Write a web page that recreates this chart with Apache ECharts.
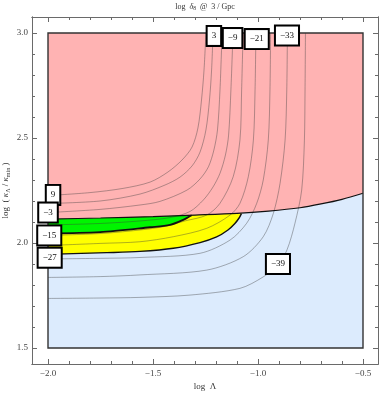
<!DOCTYPE html>
<html>
<head>
<meta charset="utf-8">
<script src="https://cdn.jsdelivr.net/npm/echarts@6/dist/echarts.min.js"></script>
<style>
html, body { margin: 0; padding: 0; background: #fff; }
#chart { width: 379px; height: 394px; }
</style>
</head>
<body>
<div id="chart"></div>
<script>
// plot region (log Λ, log κΛ/κmin)
const regionX = [-2.0, -0.5]
const regionY = [1.5, 3.0]

// tick values
const majorX = [-2.0, -1.5, -1.0, -0.5]
const minorX = [-1.9, -1.8, -1.7, -1.6, -1.4, -1.3, -1.2, -1.1, -0.9, -0.8, -0.7, -0.6]
const majorY = [1.5, 2.0, 2.5, 3.0]
const minorY = [1.6, 1.7, 1.8, 1.9, 2.1, 2.2, 2.3, 2.4, 2.6, 2.7, 2.8, 2.9]

// edge between the pink and the blue region
const boundX = [-2.0, -1.75, -1.5, -1.3, -1.1, -0.95, -0.8, -0.7, -0.6, -0.5]
const boundY = [2.114, 2.119, 2.126, 2.133, 2.141, 2.152, 2.168, 2.186, 2.208, 2.237]
// lower edge of the green band
const greenX = [-2.0, -1.752, -1.514, -1.419, -1.356, -1.316]
const greenY = [2.046, 2.052, 2.075, 2.086, 2.110, 2.132]
// lower edge of the yellow band
const yellowX = [-2.0, -1.72, -1.562, -1.403, -1.276, -1.197, -1.143, -1.110, -1.090, -1.079]
const yellowY = [1.946, 1.954, 1.960, 1.975, 2.002, 2.029, 2.062, 2.093, 2.119, 2.140]

// contour lines, level 9 down to -39
const c9x = [-2.0, -1.8, -1.643, -1.514, -1.429, -1.362, -1.314, -1.286, -1.269, -1.257, -1.248]
const c9y = [2.226, 2.240, 2.260, 2.290, 2.338, 2.395, 2.457, 2.548, 2.681, 2.824, 3.0]
const c3x = [-2.0, -1.752, -1.562, -1.443, -1.371, -1.314, -1.276, -1.248, -1.231, -1.221, -1.214]
const c3y = [2.188, 2.200, 2.233, 2.276, 2.314, 2.367, 2.433, 2.538, 2.681, 2.824, 3.0]
const cm3x = [-2.0, -1.752, -1.562, -1.467, -1.338, -1.276, -1.236, -1.210, -1.193, -1.181, -1.171]
const cm3y = [2.145, 2.160, 2.181, 2.198, 2.252, 2.305, 2.363, 2.443, 2.538, 2.729, 3.0]
const cm9x = [-2.0, -1.752, -1.562, -1.419, -1.324, -1.260, -1.214, -1.181, -1.155, -1.140, -1.129, -1.119]
const cm9y = [2.086, 2.093, 2.105, 2.121, 2.150, 2.205, 2.267, 2.332, 2.419, 2.514, 2.729, 3.0]
const cm15x = [-2.0, -1.752, -1.562, -1.443, -1.348, -1.244, -1.181, -1.118, -1.086, -1.078, -1.071]
const cm15y = [2.036, 2.045, 2.062, 2.079, 2.105, 2.133, 2.189, 2.316, 2.490, 2.729, 3.0]
const cm21x = [-2.0, -1.752, -1.562, -1.403, -1.244, -1.133, -1.086, -1.046, -1.022, -1.014, -1.010]
const cm21y = [1.988, 1.998, 2.006, 2.030, 2.070, 2.133, 2.189, 2.316, 2.490, 2.729, 3.0]
const cm27x = [-2.0, -1.752, -1.562, -1.276, -1.133, -1.054, -1.006, -0.975, -0.951, -0.943, -0.940]
const cm27y = [1.924, 1.927, 1.931, 1.951, 2.014, 2.094, 2.189, 2.300, 2.490, 2.729, 3.0]
const cm33x = [-2.0, -1.752, -1.562, -1.244, -1.070, -0.975, -0.927, -0.895, -0.871, -0.863, -0.860]
const cm33y = [1.836, 1.840, 1.848, 1.871, 1.935, 2.030, 2.141, 2.284, 2.490, 2.729, 3.0]
const cm39x = [-2.0, -1.752, -1.562, -1.324, -1.086, -0.976, -0.905, -0.862, -0.824, -0.792, -0.779, -0.776, -0.774]
const cm39y = [1.736, 1.738, 1.741, 1.752, 1.784, 1.838, 1.895, 1.967, 2.094, 2.252, 2.490, 2.729, 3.0]

// contour labels
const labelText = ['3', '\u22129', '\u221221', '\u221233', '9', '\u22123', '\u221215', '\u221227', '\u221239']
const labelX = [-1.210, -1.121, -1.006, -0.862, -1.976, -2.000, -1.994, -1.992, -0.905]
const labelY = [2.986, 2.976, 2.971, 2.988, 2.229, 2.145, 2.036, 1.930, 1.900]

const font = 'Liberation Serif'
const frame = '#6a6a6a'
const pad = 16 / 210   // frame sits a bit outside the plot region

function pairs(xs, ys) {
    return xs.map((x, i) => [x, ys[i]])
}
function fmt(v) {
    return v < 0 ? '\u2212' + Math.abs(v).toFixed(1) : v.toFixed(1)
}

// filled band: everything above the curve up to the top of the region
function fill(xs, ys, color, z) {
    return {
        type: 'line', data: pairs(xs, ys), smooth: 0.3, symbol: 'none', silent: true, z: z,
        lineStyle: { width: 0, opacity: 0 },
        areaStyle: { color: color, opacity: 1, origin: regionY[1] }
    }
}
function edge(xs, ys, w, z) {
    return {
        type: 'line', data: pairs(xs, ys), smooth: 0.3, symbol: 'none', silent: true, z: z,
        lineStyle: { color: '#111', width: w }
    }
}
function contour(xs, ys) {
    return {
        type: 'line', data: pairs(xs, ys), smooth: 0.3, symbol: 'none', silent: true, z: 5,
        lineStyle: { color: 'rgba(60,60,60,0.5)', width: 0.8 }
    }
}

function xAx(pos, ticks, len, labels) {
    return {
        type: 'value', min: regionX[0] - pad, max: regionX[1] + 15 / 210, position: pos,
        axisLine: { show: true, onZero: false, lineStyle: { color: frame, width: 1 } },
        axisTick: { show: true, inside: true, length: len, customValues: ticks, lineStyle: { color: frame, width: 1 } },
        axisLabel: { show: labels, customValues: ticks, margin: 5, fontFamily: font, fontSize: 9, color: '#444', formatter: fmt },
        splitLine: { show: false }
    }
}
function yAx(pos, ticks, len, labels) {
    return {
        type: 'value', min: regionY[0] - pad, max: regionY[1] + pad, position: pos,
        axisLine: { show: true, onZero: false, lineStyle: { color: frame, width: 1 } },
        axisTick: { show: true, inside: true, length: len, customValues: ticks, lineStyle: { color: frame, width: 1 } },
        axisLabel: { show: labels, customValues: ticks, margin: 4, fontFamily: font, fontSize: 9, color: '#444', formatter: fmt },
        splitLine: { show: false }
    }
}

const xAxes = [xAx('bottom', majorX, 5, true), xAx('bottom', minorX, 3, false), xAx('top', majorX, 5, false), xAx('top', minorX, 3, false)]
xAxes[0].name = 'log  \u039b'
xAxes[0].nameLocation = 'middle'
xAxes[0].nameGap = 18
xAxes[0].nameMoveOverlap = false
xAxes[0].nameTextStyle = { fontFamily: font, fontSize: 9, color: '#333' }

const yAxes = [yAx('left', majorY, 5, true), yAx('left', minorY, 3, false), yAx('right', majorY, 5, false), yAx('right', minorY, 3, false)]
yAxes[0].name = 'log  ( {i|\u03ba}{s|\u039b} / {i|\u03ba}{s|min} )'
yAxes[0].nameLocation = 'middle'
yAxes[0].nameGap = 21
yAxes[0].nameMoveOverlap = false
yAxes[0].nameTextStyle = {
    fontFamily: font, fontSize: 9, color: '#333',
    rich: {
        i: { fontFamily: font, fontSize: 9, fontStyle: 'italic', color: '#333' },
        s: { fontFamily: font, fontSize: 6, color: '#333', padding: [5, 0, 0, 0] }
    }
}

function regionRect(style, z) {
    return {
        type: 'custom', z: z, silent: true, data: [[regionX[0], regionY[0]]],
        renderItem: function (params, api) {
            const p0 = api.coord([regionX[0], regionY[1]])
            const p1 = api.coord([regionX[1], regionY[0]])
            return { type: 'rect', shape: { x: p0[0], y: p0[1], width: p1[0] - p0[0], height: p1[1] - p0[1] }, style: style }
        }
    }
}

const chart = echarts.init(document.getElementById('chart'))
chart.setOption({
    animation: false,
    backgroundColor: '#fff',
    grid: { left: 32, right: 1, top: 17, bottom: 30, containLabel: false, outerBoundsMode: 'none' },
    xAxis: xAxes,
    yAxis: yAxes,
    graphic: [{
        type: 'text', x: 205, y: 7, z: 100,
        style: {
            text: 'log  {i|\u03b4}{s|8}  @  3 / Gpc', align: 'center', verticalAlign: 'middle',
            fontFamily: font, fontSize: 8, fill: '#333',
            rich: {
                i: { fontFamily: font, fontSize: 8, fontStyle: 'italic', fill: '#333' },
                s: { fontFamily: font, fontSize: 5.5, fill: '#333', padding: [4, 0, 0, 0] }
            }
        }
    }],
    series: [
        regionRect({ fill: '#dcebfd' }, 1),
        fill(yellowX, yellowY, '#ffff00', 2),
        fill(greenX, greenY, '#00f500', 3),
        fill(boundX, boundY, '#ffb3b3', 4),
        contour(c9x, c9y),
        contour(c3x, c3y),
        contour(cm3x, cm3y),
        contour(cm9x, cm9y),
        contour(cm15x, cm15y),
        contour(cm21x, cm21y),
        contour(cm27x, cm27y),
        contour(cm33x, cm33y),
        contour(cm39x, cm39y),
        edge(yellowX, yellowY, 1.4, 6),
        edge(greenX, greenY, 1.8, 6),
        edge(boundX, boundY, 1.2, 6),
        regionRect({ fill: 'none', stroke: '#333', lineWidth: 1.4 }, 7),
        {
            type: 'scatter', z: 20, symbolSize: 1, silent: true,
            itemStyle: { color: '#fff', opacity: 1 },
            data: labelText.map((t, i) => ({ name: t, value: [labelX[i], labelY[i]] })),
            label: {
                show: true, position: 'inside', formatter: p => p.name, opacity: 1,
                fontFamily: font, fontSize: 9, color: '#111', textBorderWidth: 0,
                backgroundColor: '#ffffff', borderColor: '#000', borderWidth: 2, padding: [5, 4, 4, 4]
            }
        }
    ]
})
</script>
</body>
</html>
